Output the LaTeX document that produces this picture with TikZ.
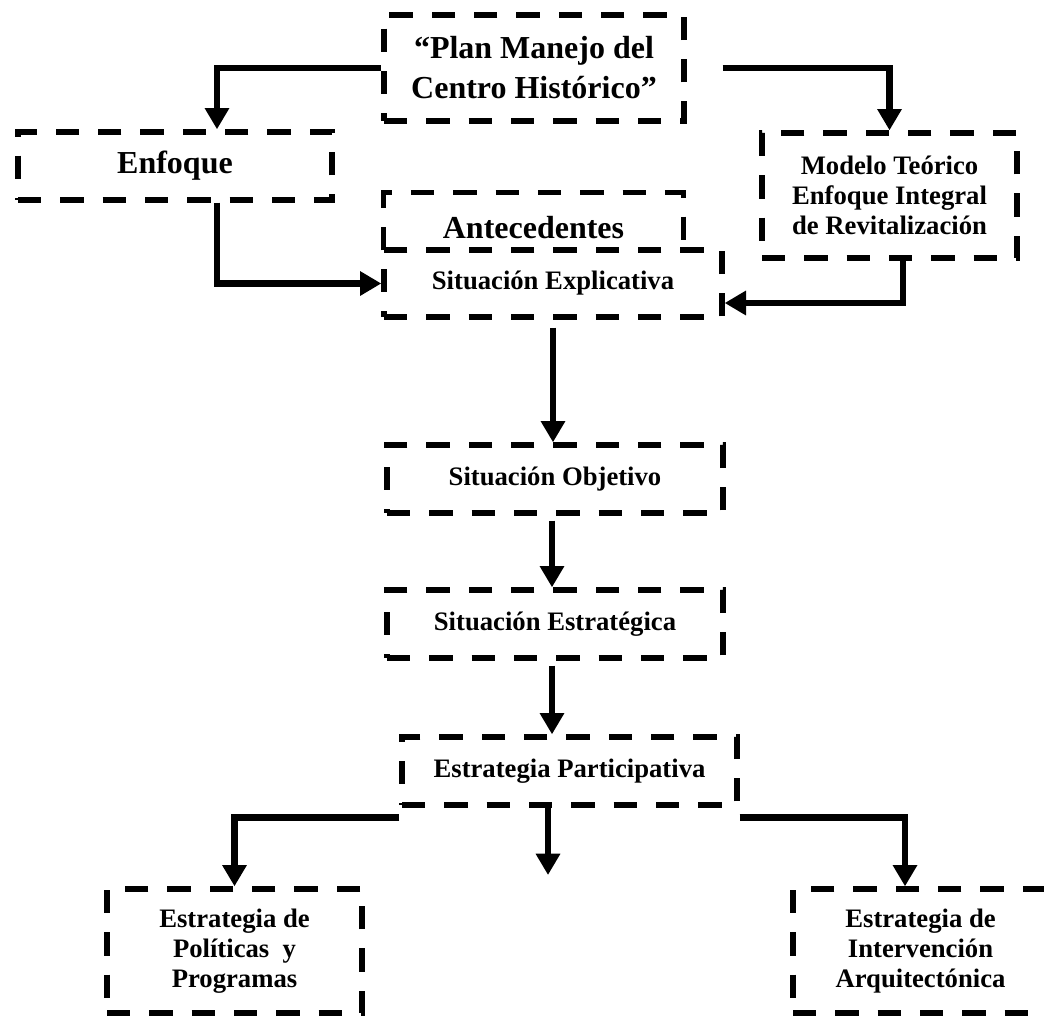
\documentclass[tikz,border=0pt]{standalone}
\usepackage{fontspec}
\setmainfont{Liberation Serif}
\usetikzlibrary{arrows.meta, calc}

\tikzset{
  caja/.style={draw, line width=4pt, dash pattern=on 17.5pt off 14.25pt, align=center, inner sep=0pt},
  borde/.style={line width=4pt, dash pattern=on 17.5pt off 14.25pt},
  grande/.style={font=\fontsize{24}{30}\selectfont\bfseries},
  chica/.style={font=\fontsize{20}{22.5}\selectfont\bfseries},
  flecha/.style={line width=5pt, -{Triangle[length=16pt,width=17.5pt]}},
}

\begin{document}
\begin{tikzpicture}[x=0.75pt,y=0.75pt,yscale=-1,xscale=1]
\useasboundingbox (0,0) rectangle (1044,1017);

%Shape: Rectangle [id:plan]
\node [caja, grande, minimum width=225pt, minimum height=79.5pt] (plan) at (534,68) {“Plan Manejo del\\Centro Histórico”};
%Shape: Rectangle [id:enfoque]
\node [caja, grande, minimum width=235.5pt, minimum height=51pt] (enfoque) at (175,166) {Enfoque};
%Shape: Rectangle [id:modelo]
\node [caja, chica, minimum width=191.25pt, minimum height=93.75pt] (modelo) at (889.5,195.5) {Modelo Teórico\\Enfoque Integral\\de Revitalización};
%Shape: Rectangle, open below [id:antec]
\node [grande, inner sep=0pt, minimum width=224.25pt, minimum height=42.75pt] (antec) at (533.5,221.5) {\raisebox{-12.4pt}[0pt][0pt]{Antecedentes}};
\draw [borde] (antec.south west) -- (antec.north west) -- (antec.north east) -- (antec.south east);
%Shape: Rectangle [id:expl]
\node [caja, chica, minimum width=253.5pt, minimum height=50.25pt] (expl) at (553,283.5) {Situación Explicativa};
%Shape: Rectangle [id:objetivo]
\node [caja, chica, minimum width=252pt, minimum height=51pt] (objetivo) at (555,479) {Situación Objetivo};
%Shape: Rectangle [id:estrat]
\node [caja, chica, minimum width=252pt, minimum height=51pt] (estrat) at (555,624) {Situación Estratégica};
%Shape: Rectangle [id:partic]
\node [caja, chica, minimum width=251.25pt, minimum height=51pt] (partic) at (569.5,771) {Estrategia Participativa};
%Shape: Rectangle [id:politicas]
\node [caja, chica, minimum width=191.25pt, minimum height=93pt] (politicas) at (234.5,951) {Estrategia de\\Políticas~ y\\Programas};
%Shape: Rectangle [id:interv]
\node [caja, chica, minimum width=191.25pt, minimum height=93pt] (interv) at (920.5,951) {Estrategia de\\Intervención\\Arquitectónica};

%Free end of the middle arrow
\coordinate (libre) at (548,875);

%Connectors
\draw [flecha] (plan.west) -| ($(enfoque.north)+(42,0)$);
\draw [flecha] ($(plan.east)+(36,0)$) -| (modelo.north);
\draw [flecha] ($(enfoque.south)+(42,0)$) |- (expl.west);
\draw [flecha] ($(modelo.south)+(13.5,0)$) |- ($(expl.east)+(0,19.5)$);
\draw [flecha] ($(expl.south)+(0,8)$) -- (expl.south |- objetivo.north);
\draw [flecha] ($(objetivo.south)+(-3,5)$) -- ($(estrat.north)+(-3,0)$);
\draw [flecha] ($(estrat.south)+(-3,5)$) -- ($(estrat.north |- partic.north)+(-3,0)$);
\draw [flecha] ($(partic.south west)+(0,10)$) -| (politicas.north);
\draw [flecha] ($(partic.south east)+(0,10)$) -| ($(interv.north)+(-15.5,0)$);
\draw [flecha] (partic.south -| libre) -- (libre);

\end{tikzpicture}
\end{document}
